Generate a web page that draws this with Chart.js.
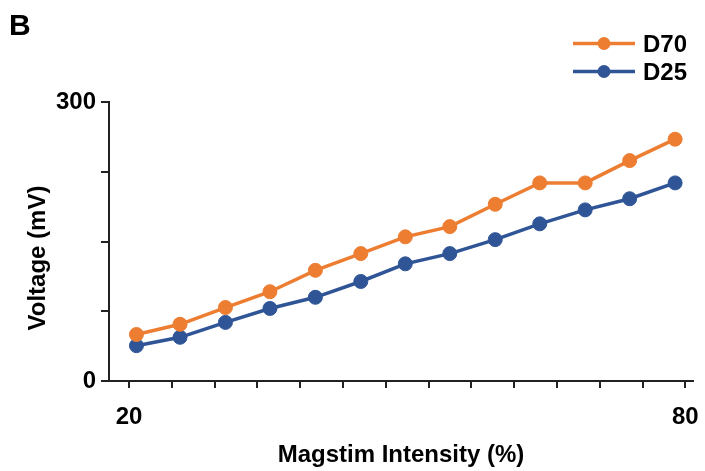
<!DOCTYPE html>
<html>
<head>
<meta charset="utf-8">
<script src="https://cdn.jsdelivr.net/npm/chart.js@4/dist/chart.umd.min.js"></script>
<style>
  html, body { margin: 0; padding: 0; background: #fff; }
  #wrap { width: 705px; height: 471px; }
</style>
</head>
<body>
<div id="wrap"><canvas id="voltChart" width="705" height="471"></canvas></div>
<script>
// stimulator intensity (%) for each recorded step
const intensity = [20.8, 25.5, 30.4, 35.2, 40.1, 45.0, 49.8, 54.6, 59.5, 64.3, 69.2, 74.0, 78.9]
// evoked voltage (mV)
const d70 = [50, 61, 79, 96, 119, 137, 155, 166, 190, 213, 213, 237, 260]
const d25 = [38, 47, 63, 78, 90, 107, 126, 137, 152, 169, 184, 196, 213]

const xTickFirst = 20
const xTickLast = 80
const xTickCount = 14
const yTicks = [0, 75, 150, 225, 300]
const yLabelled = [0, 300]

const FONT = "'Liberation Sans', Arial, sans-serif"
const AXIS = "#222"
const ORANGE = "#ED7D31"
const BLUE = "#2F5597"

function pts(ys) {
    return ys.map((y, i) => ({ x: intensity[i], y: y }))
}

// panel letter, rotated y title and line+marker legend
const extras = {
    id: "extras",
    afterDraw(chart) {
        const ctx = chart.ctx
        ctx.save()
        ctx.fillStyle = "#000"
        ctx.font = "bold 30px " + FONT
        ctx.textBaseline = "alphabetic"
        ctx.textAlign = "left"
        ctx.fillText("B", 9, 35)

        ctx.font = "bold 24px " + FONT
        ctx.translate(38, 258)
        ctx.rotate(-Math.PI / 2)
        ctx.textAlign = "center"
        ctx.textBaseline = "middle"
        ctx.fillText("Voltage (mV)", 0, 0)
        ctx.restore()

        ctx.save()
        const rows = [43.5, 71.5]
        chart.data.datasets.forEach((ds, i) => {
            const y = rows[i]
            ctx.strokeStyle = ds.borderColor
            ctx.lineWidth = 3.5
            ctx.beginPath()
            ctx.moveTo(573, y)
            ctx.lineTo(635, y)
            ctx.stroke()
            ctx.fillStyle = ds.borderColor
            ctx.beginPath()
            ctx.arc(604, y, 6.5, 0, Math.PI * 2)
            ctx.fill()
            ctx.fillStyle = "#000"
            ctx.font = "bold 24px " + FONT
            ctx.textAlign = "left"
            ctx.textBaseline = "middle"
            ctx.fillText(ds.label, 643, y + 2)
        })
        ctx.restore()
    }
}

new Chart(document.getElementById("voltChart"), {
    type: "line",
    data: {
        datasets: [
            {
                label: "D70",
                data: pts(d70),
                borderColor: ORANGE,
                backgroundColor: ORANGE,
                pointBackgroundColor: ORANGE,
                pointBorderColor: ORANGE,
                borderWidth: 3.5,
                pointRadius: 7,
                pointBorderWidth: 1
            },
            {
                label: "D25",
                data: pts(d25),
                borderColor: BLUE,
                backgroundColor: BLUE,
                pointBackgroundColor: BLUE,
                pointBorderColor: BLUE,
                borderWidth: 3.5,
                pointRadius: 7,
                pointBorderWidth: 1
            }
        ]
    },
    options: {
        responsive: false,
        animation: false,
        devicePixelRatio: 1,
        layout: { padding: { top: 102, right: 12, left: 0, bottom: 0 } },
        plugins: { legend: { display: false }, tooltip: { enabled: false } },
        scales: {
            x: {
                type: "linear",
                min: 17.84,
                max: 80.83,
                afterFit(scale) {
                    scale.height = 90
                    // keep the end labels from shrinking the plot area
                    scale.paddingLeft = 0
                    scale.paddingRight = 0
                },
                afterBuildTicks(scale) {
                    const step = (xTickLast - xTickFirst) / (xTickCount - 1)
                    scale.ticks = Array.from({ length: xTickCount }, (_, k) => ({ value: xTickFirst + k * step }))
                },
                border: { display: true, color: AXIS, width: 2 },
                grid: { drawOnChartArea: false, drawTicks: true, tickLength: 7, color: AXIS, lineWidth: 2 },
                ticks: {
                    autoSkip: false,
                    maxRotation: 0,
                    padding: 15,
                    color: "#000",
                    font: { family: FONT, size: 24, weight: "bold" },
                    callback: (v, i, t) => (i === 0 || i === t.length - 1) ? String(Math.round(v)) : ""
                },
                title: {
                    display: true,
                    text: "Magstim Intensity (%)",
                    color: "#000",
                    font: { family: FONT, size: 24, weight: "bold" },
                    padding: { top: 0, bottom: 1 }
                }
            },
            y: {
                min: 0,
                max: 300,
                afterFit(scale) {
                    scale.width = 109
                    scale.paddingTop = 0
                    scale.paddingBottom = 0
                },
                afterBuildTicks(scale) {
                    scale.ticks = yTicks.map(v => ({ value: v }))
                },
                border: { display: true, color: AXIS, width: 2 },
                grid: { drawOnChartArea: false, drawTicks: true, tickLength: 8, color: AXIS, lineWidth: 2 },
                ticks: {
                    padding: 5,
                    color: "#000",
                    font: { family: FONT, size: 24, weight: "bold" },
                    callback: v => yLabelled.includes(v) ? String(v) : ""
                }
            }
        }
    },
    plugins: [extras]
})
</script>
</body>
</html>
